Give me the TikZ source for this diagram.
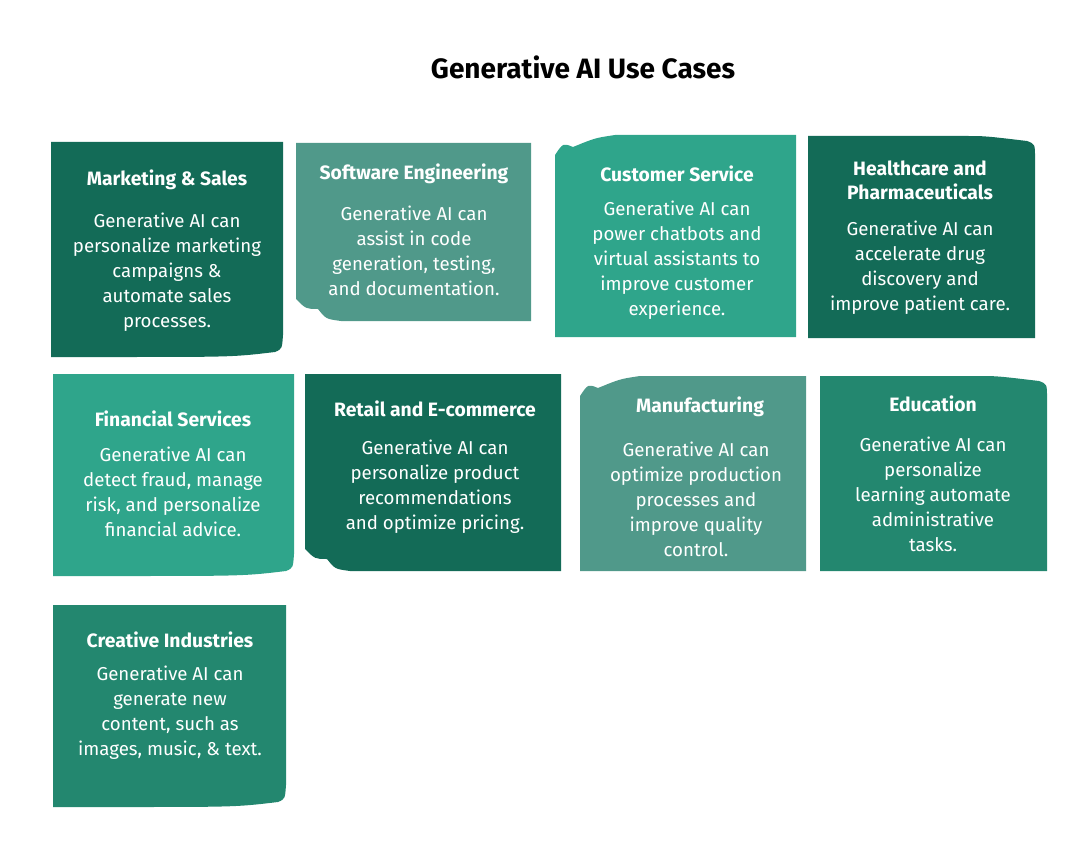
\documentclass[tikz,border=0pt]{standalone}
\usepackage{fontspec}
\setmainfont{Fira Sans}
\definecolor{cdark}{HTML}{136B57}
\definecolor{cmid}{HTML}{50998A}
\definecolor{cteal}{HTML}{2FA58B}
\definecolor{cgreen}{HTML}{23876F}
\tikzset{
  head/.style={text=white,font=\fontsize{14.5}{18}\selectfont\bfseries,align=center,inner sep=0},
  body/.style={text=white,font=\fontsize{14}{18.75}\selectfont,align=center,inner sep=0},
}
% plain card with curl variants
\newcommand{\cardBR}[5]{\fill[#5] (#1,#2) -- (#3,#2) -- (#3,#4-22) .. controls (#3-1,#4-8) .. (#3-8,#4-5) .. controls (#3-50,#4) .. (#1+60,#4) -- (#1,#4) -- cycle;}
\newcommand{\cardBL}[5]{\fill[#5] (#1,#2) -- (#3,#2) -- (#3,#4) -- (#1+45,#4) .. controls (#1+30,#4-2) .. (#1+22,#4-12) .. controls (#1+10,#4-12) .. (#1,#4-22) -- cycle;}
\newcommand{\cardTL}[5]{\fill[#5] (#1,#4) -- (#3,#4) -- (#3,#2) -- (#1+60,#2) .. controls (#1+40,#2+3) .. (#1+18,#2+12) .. controls (#1+8,#2+8) .. (#1,#2+20) -- cycle;}
\newcommand{\cardTR}[5]{\fill[#5] (#1,#4) -- (#3,#4) -- (#3,#2+22) .. controls (#3,#2+8) .. (#3-8,#2+5) .. controls (#3-50,#2) .. (#3-70,#2) -- (#1,#2) -- cycle;}
\begin{document}
\begin{tikzpicture}[x=0.75pt,y=-0.75pt]
\useasboundingbox (0,0) rectangle (1080,852);
\node[font=\fontsize{21}{24}\selectfont\bfseries,inner sep=0] (title) at (583,67) {Generative AI Use Cases};

\cardBR{51}{142}{283}{357}{cdark}
\node[head] (h1) at (167,180) {Marketing \& Sales};
\node[body] (b1) at (167,272) {Generative AI can\\personalize marketing\\campaigns \&\\automate sales\\processes.};

\cardBL{296}{143}{531}{321}{cmid}
\node[head] (h2) at (414,174) {Software Engineering};
\node[body] (b2) at (414,251) {Generative AI can\\assist in code\\generation, testing,\\and documentation.};

\cardTL{555}{135}{796}{337}{cteal}
\node[head] (h3) at (677,174) {Customer Service};
\node[body] (b3) at (677,260) {Generative AI can\\power chatbots and\\virtual assistants to\\improve customer\\experience.};

\cardTR{808}{136}{1035}{338}{cdark}
\node[head] (h4) at (920,180) {Healthcare and\\Pharmaceuticals};
\node[body] (b4) at (920,268) {Generative AI can\\accelerate drug\\discovery and\\improve patient care.};

\cardBR{53}{374}{294}{576}{cteal}
\node[head] (h5) at (173,419) {Financial Services};
\node[body] (b5) at (173,492) {Generative AI can\\detect fraud, manage\\risk, and personalize\\financial advice.};

\cardBL{305}{374}{561}{571}{cdark}
\node[head] (h6) at (435,409) {Retail and E-commerce};
\node[body] (b6) at (435,487) {Generative AI can\\personalize product\\recommendations\\and optimize pricing.};

\cardTL{580}{376}{806}{571}{cmid}
\node[head] (h7) at (700,407) {Manufacturing};
\node[body] (b7) at (696,499) {Generative AI can\\optimize production\\processes and\\improve quality\\control.};

\cardTR{820}{376}{1047}{571}{cgreen}
\node[head] (h8) at (933,404) {Education};
\node[body] (b8) at (933,494) {Generative AI can\\personalize\\learning automate\\administrative\\tasks.};

\cardBR{53}{605}{286}{807}{cgreen}
\node[head] (h9) at (170,640) {Creative Industries};
\node[body] (b9) at (170,713) {Generative AI can\\generate new\\content, such as\\images, music, \& text.};
\end{tikzpicture}
\end{document}
